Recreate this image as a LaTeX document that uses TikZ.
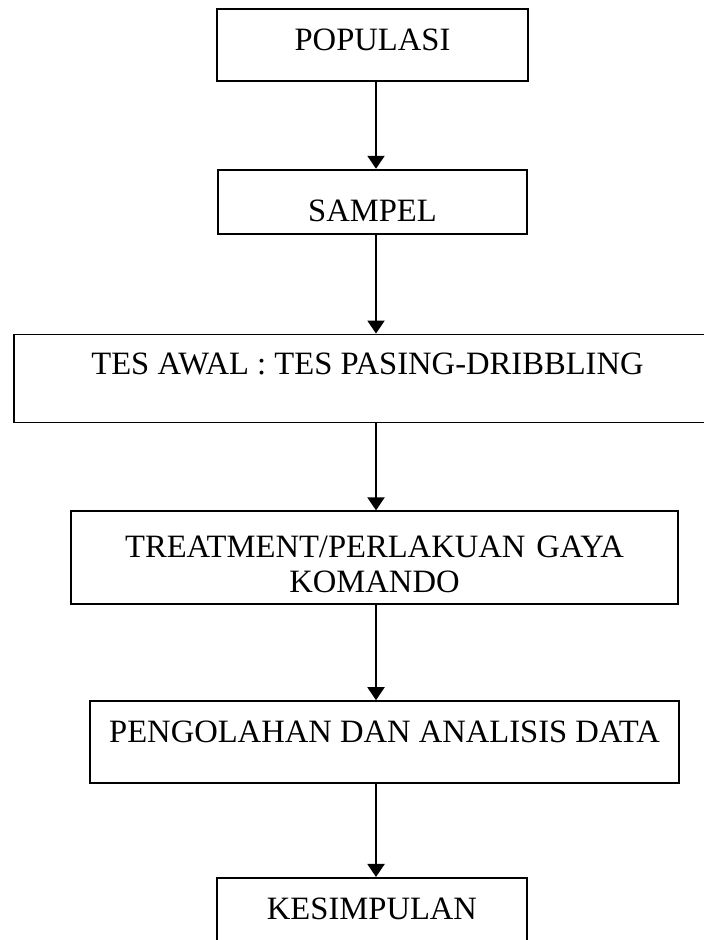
\documentclass[tikz,border=0pt]{standalone}
\usepackage{fontspec}
\setmainfont{Liberation Serif}
\usepackage{tikz}
\usetikzlibrary{positioning,arrows.meta}

\begin{document}
\begin{tikzpicture}
\tikzstyle{stage} = [rectangle, draw, line width=0.9pt, anchor=north, inner xsep=0pt, inner ysep=0pt, align=center, text height=20.8pt, font=\fontsize{16.3pt}{17.5pt}\selectfont]
\tikzstyle{flow} = [line width=1pt, -{Triangle[length=6.5pt,width=8.5pt]}]

\useasboundingbox (0,0) rectangle (351.5pt,470pt);
\coordinate (axis) at (188pt,0);

\node (pop) [stage, minimum width=155.5pt, minimum height=36pt, text depth=15.2pt] at (186.25pt,466pt) {POPULASI};
\node (sam) [stage, below=43.5pt of pop, minimum width=154.5pt, minimum height=32pt, text height=25.8pt, text depth=6.2pt] {SAMPEL};
\node (tes) [stage, below=49.5pt of sam, xshift=-2.5pt, minimum width=353.5pt, minimum height=44pt, text height=19.8pt, text depth=24.2pt] {TES AWAL : TES PASING-DRIBBLING};
\node (treat) [stage, below=43.5pt of tes, xshift=3.5pt, minimum width=303.5pt, minimum height=46.5pt, text width=290pt, text height=23.3pt, text depth=23.2pt] {TREATMENT/PERLAKUAN GAYA\\KOMANDO};
\node (olah) [stage, below=47.5pt of treat, xshift=5pt, minimum width=294.5pt, minimum height=41pt, text depth=20.2pt] {PENGOLAHAN DAN ANALISIS DATA};
\node (kes) [stage, below=46.5pt of olah, xshift=-6.25pt, minimum width=155pt, minimum height=46pt, text depth=25.2pt] {KESIMPULAN};

\draw [flow] (pop.south -| axis) -- (sam.north -| axis);
\draw [flow] (sam.south -| axis) -- (tes.north -| axis);
\draw [flow] (tes.south -| axis) -- (treat.north -| axis);
\draw [flow] (treat.south -| axis) -- (olah.north -| axis);
\draw [flow] (olah.south -| axis) -- (kes.north -| axis);

\end{tikzpicture}
\end{document}
